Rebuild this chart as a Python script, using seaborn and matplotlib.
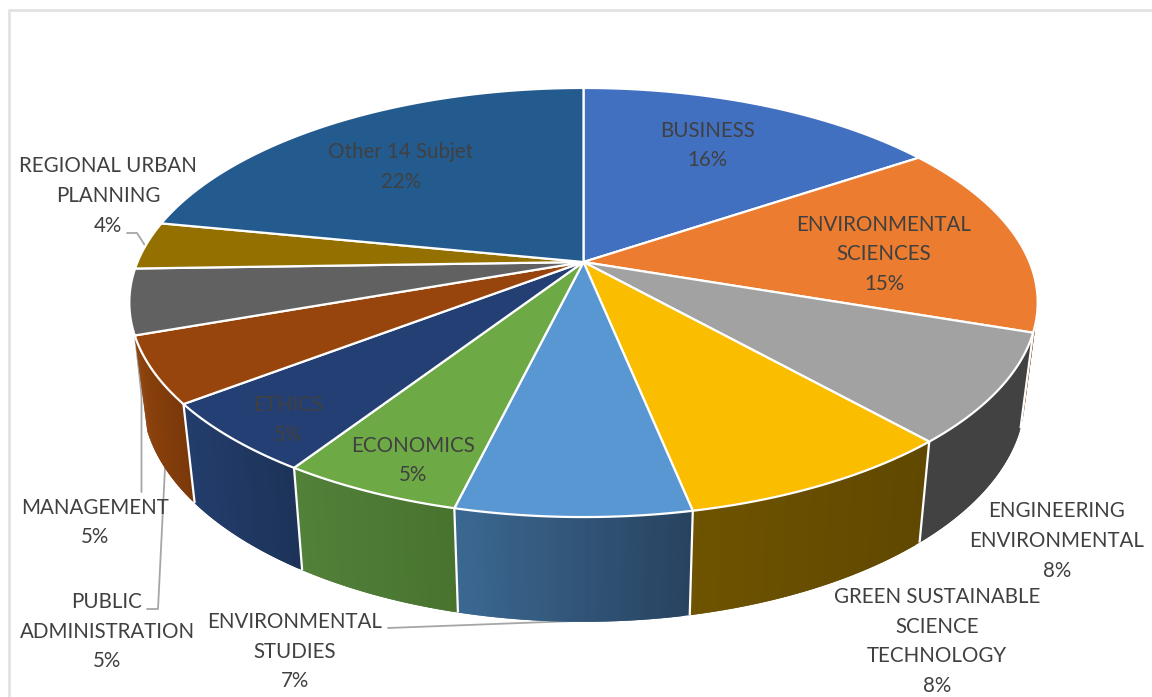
import numpy as np
import matplotlib
matplotlib.use("Agg")
import matplotlib.pyplot as plt
from matplotlib.colors import to_rgb
from matplotlib.patches import Polygon
import seaborn as sns

# Share of records per subject, clockwise from twelve o'clock
subjects = ["BUSINESS", "ENVIRONMENTAL\nSCIENCES", "ENGINEERING\nENVIRONMENTAL",
            "GREEN SUSTAINABLE\nSCIENCE\nTECHNOLOGY", "ENVIRONMENTAL\nSTUDIES",
            "ECONOMICS", "ETHICS", "PUBLIC\nADMINISTRATION", "MANAGEMENT",
            "REGIONAL URBAN\nPLANNING", "Other 14 Subjet"]
shares = [15.6, 14.6, 8.2, 8.4, 7.0, 5.4, 5.4, 5.0, 4.9, 3.6, 21.9]

top_hex = ["#4270C1", "#EB7C30", "#A2A2A2", "#FBBD00", "#5997D3", "#6DA945",
           "#243F74", "#98450D", "#616161", "#937000", "#245B8E"]
# Slices on the far side show no wall, so they have no wall colours
wall_left_hex = [None, "#8F4C1E", "#424242", "#6E5300", "#3B6892", "#52813A",
                 "#233D6C", "#8C420C", None, None, None]
wall_right_hex = [None, "#8F4C1E", "#424242", "#604800", "#28435F", "#48732E",
                  "#1D3358", "#7A380A", None, None, None]

label_x = [707, 884, 1057, 937, 295, 413, 288, 107, 95, 108, 401]
label_y = [145.5, 254.5, 541, 641.5, 651.5, 460.5, 420, 631.5, 522.5, 196, 167]

# Projection of the disc: a tilted circle seen in perspective
CX, CY = 583.5, 262.0
SX, SY, PERSP = 446.0, 206.9, 0.1888
WALL_DROP, WALL_XS, WALL_YS = 92.0, 0.972, 1.05


def rim(theta):
    denom = 1 + PERSP * np.cos(theta)
    return SX * np.sin(theta) / denom, -SY * np.cos(theta) / denom


def base(dx, dy):
    return WALL_XS * dx, WALL_DROP + WALL_YS * dy


sns.set_theme(style="white", rc={"axes.facecolor": "white", "figure.facecolor": "white"})
plt.rcParams["font.family"] = ["Lato", "DejaVu Sans"]

fig, ax = plt.subplots(figsize=(11.52, 6.97), dpi=100)
fig.subplots_adjust(0, 0, 1, 1)
ax.set_xlim(0, 1152)
ax.set_ylim(697, 0)
ax.axis("off")

# Chart frame, cut off by the right and lower edges
ax.plot([9, 9, 1152], [697, 10, 10], color="#E2E2E2", lw=2, zorder=0)

# Leader lines run beneath the pie
leaders = {
    "REGIONAL": ([127, 137, 146], [233, 233, 247]),
    "MANAGEMENT": ([141.5, 141.5, 135], [492, 395, 335]),
    "PUBLIC": ([147, 158, 165], [609, 609, 468]),
    "STUDIES": ([388, 574], [628, 621]),
}
for xs, ys in leaders.values():
    ax.plot(xs, ys, color="#A6A6A6", lw=1.3, zorder=1, solid_joinstyle="round")

fractions = np.cumsum([0] + shares) / sum(shares)
starts, ends = fractions[:-1] * 2 * np.pi, fractions[1:] * 2 * np.pi

# Walls: nearest slices are painted last; each wall is a left-to-right gradient
order = np.argsort(np.cos((starts + ends) / 2))[::-1]
for i in order:
    if wall_left_hex[i] is None:
        continue
    th = np.linspace(starts[i], ends[i], 41)
    dx, dy = rim(th)
    bx, by = base(dx, dy)
    left, right = np.array(to_rgb(wall_left_hex[i])), np.array(to_rgb(wall_right_hex[i]))
    lo, hi = dx.min(), dx.max()
    for k in range(len(th) - 1):
        t = (0.5 * (dx[k] + dx[k + 1]) - lo) / max(hi - lo, 1e-6)
        c = left + (right - left) * t
        # Each strip overlaps the next so no seams show between them
        m = min(k + 2, len(th) - 1)
        quad = np.array([[dx[k], dy[k]], [dx[m], dy[m]],
                         [bx[m], by[m]], [bx[k], by[k]]]) + [CX, CY]
        ax.add_patch(Polygon(quad, closed=True, facecolor=c, edgecolor="none", zorder=2))
    # White seam where this wall meets the next one; the last wall ends on the silhouette
    if wall_left_hex[i + 1] is not None:
        ax.plot([CX + dx[-1], CX + bx[-1]], [CY + dy[-1], CY + by[-1]],
                color="white", lw=1.6, zorder=3, solid_capstyle="butt")

# Top faces
palette = sns.color_palette(top_hex)
for i, c in enumerate(palette):
    th = np.linspace(starts[i], ends[i], 120)
    dx, dy = rim(th)
    pts = np.vstack([[CX, CY], np.column_stack([CX + dx, CY + dy])])
    ax.add_patch(Polygon(pts, closed=True, facecolor=c, edgecolor="white", lw=1.6,
                         joinstyle="round", zorder=4))

# Data labels show the share rounded to a whole percent
for name, share, x, y in zip(subjects, shares, label_x, label_y):
    ax.text(x, y, f"{name}\n{share:.0f}%", ha="center", va="center", fontsize=14.8,
            color="#404040", linespacing=1.62, zorder=5)

fig.savefig("out.png", dpi=100)
